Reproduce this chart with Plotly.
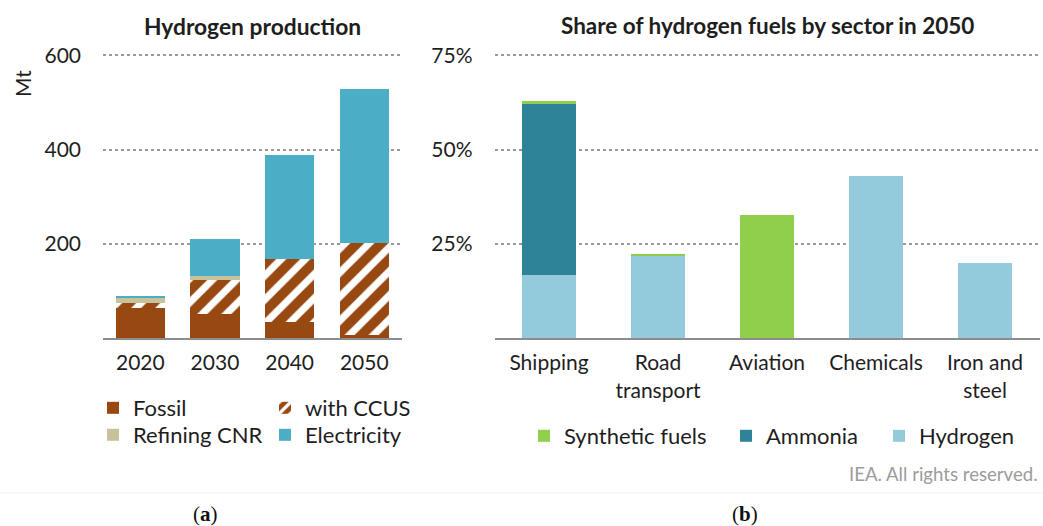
import plotly.graph_objects as go

# ---------------- data ----------------
years = ["2020", "2030", "2040", "2050"]
fossil = [64, 52, 34, 7]
with_ccus = [10, 71, 133, 195]
refining_cnr = [12, 8, 0, 0]
electricity = [2, 79, 222, 326]
left_ticks = [0, 200, 400, 600]
left_tick_text = ["", "200", "400", "600"]

sectors = ["Shipping", "Road<br>transport", "Aviation", "Chemicals", "Iron and<br>steel"]
hydrogen = [16.6, 21.7, 0, 43.1, 19.8]
ammonia = [45.8, 0, 0, 0, 0]
synthetic = [0.4, 0.7, 32.6, 0, 0]
right_ticks = [0, 25, 50, 75]
right_tick_text = ["", "25%", "50%", "75%"]

# ---------------- style ----------------
FONT = "Lato, 'Open Sans', sans-serif"
TXT = "#1e1e1e"
BROWN = "#984811"
BEIGE = "#C9C19B"
ELEC = "#4BADC6"
AMMO = "#2F8399"
HYD = "#94CBDC"
SYN = "#8FCF4C"
W, H = 1043, 526

fig = go.Figure()

# left panel
fig.add_trace(go.Bar(x=years, y=fossil, name="Fossil", marker=dict(color=BROWN, line_width=0),
                     xaxis="x", yaxis="y", legend="legend"))
fig.add_trace(go.Bar(x=years, y=with_ccus, name="with CCUS",
                     marker=dict(color=BROWN, line_width=0,
                                 pattern=dict(shape="/", fgcolor="white", bgcolor=BROWN,
                                              size=17, solidity=0.42, fillmode="replace")),
                     xaxis="x", yaxis="y", legend="legend2"))
fig.add_trace(go.Bar(x=years, y=refining_cnr, name="Refining CNR", marker=dict(color=BEIGE, line_width=0),
                     xaxis="x", yaxis="y", legend="legend3"))
fig.add_trace(go.Bar(x=years, y=electricity, name="Electricity", marker=dict(color=ELEC, line_width=0),
                     xaxis="x", yaxis="y", legend="legend4"))

# right panel
fig.add_trace(go.Bar(x=sectors, y=hydrogen, name="Hydrogen", marker=dict(color=HYD, line_width=0),
                     xaxis="x2", yaxis="y2", legend="legend7", width=0.5))
fig.add_trace(go.Bar(x=sectors, y=ammonia, name="Ammonia", marker=dict(color=AMMO, line_width=0),
                     xaxis="x2", yaxis="y2", legend="legend6", width=0.5))
fig.add_trace(go.Bar(x=sectors, y=synthetic, name="Synthetic fuels", marker=dict(color=SYN, line_width=0),
                     xaxis="x2", yaxis="y2", legend="legend5", width=0.5))

PXMT = 282.5 / 600.0
TOP_L = 606
TOP_R = 75.75
ydom = [(H - 338) / H, (H - (338 - TOP_L * PXMT)) / H]
grid = dict(showgrid=True, gridcolor="#9a9a9a", griddash="dot", gridwidth=1.5, zeroline=False,
            showline=False, ticks="", tickfont=dict(family=FONT, size=21, color=TXT),
            ticklabelstandoff=21, automargin=False)
xcommon = dict(type="category", showgrid=False, zeroline=False, showline=True, linecolor="#8c8c8c",
               linewidth=2, ticks="", tickfont=dict(family=FONT, size=21, color=TXT),
               ticklabelstandoff=5, automargin=False)


def leg(x_center, y_center):
    # plotly draws the legend swatch ~19 px right of the legend's left edge
    return dict(orientation="h", x=(x_center - 19) / W, xanchor="left", y=1 - y_center / H,
                yanchor="middle", font=dict(family=FONT, size=22, color=TXT),
                bgcolor="rgba(0,0,0,0)", borderwidth=0)


fig.update_layout(
    width=W, height=H, autosize=False,
    margin=dict(l=0, r=0, t=0, b=0, autoexpand=False),
    paper_bgcolor="white", plot_bgcolor="white",
    barmode="stack",
    bargap=0.337,
    showlegend=True,
    xaxis=dict(domain=[103 / W, 401.6 / W], anchor="y", **xcommon),
    yaxis=dict(domain=ydom, anchor="x", range=[0, TOP_L], tickvals=left_ticks,
               ticktext=left_tick_text, **grid),
    xaxis2=dict(domain=[494.5 / W, 1039.5 / W], anchor="y2", **xcommon),
    yaxis2=dict(domain=ydom, anchor="x2", range=[0, TOP_R], tickvals=right_ticks,
                ticktext=right_tick_text, **grid),
    legend=leg(112, 408),
    legend2=leg(284, 408),
    legend3=leg(112, 435),
    legend4=leg(284, 435),
    legend5=leg(543, 436),
    legend6=leg(745, 436),
    legend7=leg(898, 436),
)

annotations = [
    dict(text="<b>Hydrogen production</b>", x=252 / W, y=1 - 26 / H, xref="paper", yref="paper",
         showarrow=False, font=dict(family=FONT, size=22.8, color=TXT), xanchor="center", yanchor="middle"),
    dict(text="<b>Share of hydrogen fuels by sector in 2050</b>", x=767 / W, y=1 - 25 / H,
         xref="paper", yref="paper", showarrow=False, font=dict(family=FONT, size=22.5, color=TXT),
         xanchor="center", yanchor="middle"),
    dict(text="Mt", x=22 / W, y=1 - 84 / H, xref="paper", yref="paper", showarrow=False,
         textangle=-90, font=dict(family=FONT, size=21, color=TXT), xanchor="center", yanchor="middle"),
    dict(text="IEA. All rights reserved.", x=1040 / W, y=1 - 474 / H, xref="paper", yref="paper",
         showarrow=False, font=dict(family=FONT, size=18.6, color="#9c9c9c"), xanchor="right",
         yanchor="middle"),
    dict(text="(<b>a</b>)", x=205 / W, y=1 - 514 / H, xref="paper", yref="paper", showarrow=False,
         font=dict(family="Liberation Serif, serif", size=21, color="#111"), xanchor="center",
         yanchor="middle"),
    dict(text="(<b>b</b>)", x=745 / W, y=1 - 514 / H, xref="paper", yref="paper", showarrow=False,
         font=dict(family="Liberation Serif, serif", size=21, color="#111"), xanchor="center",
         yanchor="middle"),
]
fig.update_layout(annotations=annotations)
fig.add_shape(type="line", xref="paper", yref="paper", x0=0, x1=1, y0=1 - 493 / H, y1=1 - 493 / H,
              line=dict(color="#f3f3f3", width=1))

fig.write_html("out.html", config={"displayModeBar": False},
               post_script="document.body.style.margin='0px';")
